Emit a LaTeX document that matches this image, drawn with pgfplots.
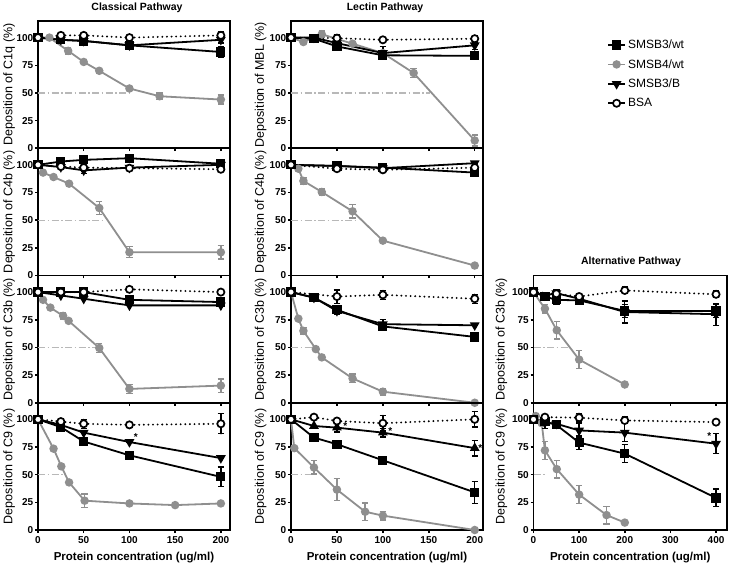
\documentclass[border=0pt]{standalone}
\usepackage{fontspec}
\setmainfont{Liberation Sans}
\usepackage{pgfplots}
\pgfplotsset{compat=1.18}
\definecolor{grayc}{gray}{0.56}
\definecolor{lightg}{gray}{0.72}
\pgfplotsset{
 panel/.style={scale only axis, height=127.25pt, ymin=0, ymax=115, ytick={0,25,50,75,100},
   tick align=outside, tick pos=left, clip=false,
   axis line style={line width=1.8pt}, tick style={line width=1.5pt, black}, major tick length=3pt,
   /pgf/number format/assume math mode=true,
   ticklabel style={font=\bfseries\fontsize{10}{11}\selectfont},
   yticklabel style={inner sep=1.5pt},
   ylabel style={anchor=center, font=\fontsize{12.5}{13}\selectfont},
   xlabel style={at={(axis description cs:0.5,-0.22)}, anchor=center, font=\bfseries\fontsize{11.5}{13}\selectfont}},
 colA/.style={width=192pt, xmin=0, xmax=210, xtick={0,50,100,150,200}, ylabel style={at={(axis description cs:-0.15,0.5)}}},
 colB/.style={width=192pt, xmin=0, xmax=209, xtick={0,50,100,150,200}, ylabel style={at={(axis description cs:-0.158,0.5)}}},
 colC/.style={width=193.5pt, xmin=0, xmax=424, xtick={0,100,200,300,400}, ylabel style={at={(axis description cs:-0.166,0.5)}}},
 noxl/.style={xticklabel=\empty},
 eb/.style={error bars/y dir=both, error bars/y explicit, error bars/error bar style={line width=1.3pt, solid}, error bars/error mark options={rotate=90, mark size=3.2pt, line width=1.3pt, solid}},
 sW/.style={black, line width=1.8pt, mark=square*, mark size=3.7pt, mark options={solid}, eb},
 sG/.style={grayc, line width=1.8pt, mark=*, mark size=3.3pt, mark options={solid}, eb},
 sB/.style={black, line width=1.8pt, mark=triangle*, mark size=3.9pt, mark options={solid, rotate=180}, eb},
 sBu/.style={black, line width=1.8pt, mark=triangle*, mark size=3.9pt, mark options={solid}, eb},
 sA/.style={black, line width=2.1pt, dash pattern=on 0.01pt off 4.6pt, line cap=round, mark=*, mark size=3.6pt, mark options={solid, fill=white, draw=black, line width=1.7pt}, eb},
 fifty/.style={lightg, line width=1.3pt, dash pattern=on 7pt off 2.5pt on 1.5pt off 2.5pt},
}
\begin{document}
\begin{tikzpicture}
\useasboundingbox (0pt,0pt) rectangle (730pt,568pt);
\node[font=\bfseries\fontsize{10.5}{12}\selectfont] at (137pt,560pt) {Classical Pathway};
\node[font=\bfseries\fontsize{10.5}{12}\selectfont] at (385pt,560pt) {Lectin Pathway};
\node[font=\bfseries\fontsize{10.5}{12}\selectfont] at (631pt,306pt) {Alternative Pathway};

% ===== Column 1: Classical =====
\begin{axis}[panel, colA, noxl, at={(38pt,419.75pt)}, anchor=south west, ylabel={Deposition of C1q (\%)}]
\addplot[fifty] coordinates {(0,50) (100,50)};
\addplot[sG] table[row sep=\\, x=x, y=y, y error=e] {x y e\\ 0 100 0\\ 12.5 100 0\\ 33 88 3\\ 50 78 0\\ 67 70 0\\ 100 54 0\\ 133 47 3\\ 200 44 4\\};
\addplot[sB] table[row sep=\\, x=x, y=y, y error=e] {x y e\\ 0 100 0\\ 25 98 0\\ 50 97 0\\ 100 93 0\\ 200 98 3\\};
\addplot[sW] table[row sep=\\, x=x, y=y, y error=e] {x y e\\ 0 100 0\\ 25 98 0\\ 50 97 0\\ 100 93 0\\ 200 87 5\\};
\addplot[sA] table[row sep=\\, x=x, y=y, y error=e] {x y e\\ 0 100 0\\ 25 102 2\\ 50 102 2\\ 100 100 2\\ 200 102 3\\};
\end{axis}

\begin{axis}[panel, colA, noxl, at={(38pt,292.5pt)}, anchor=south west, ylabel={Deposition of C4b (\%)}]
\addplot[fifty] coordinates {(0,50) (70,50)};
\addplot[sG] table[row sep=\\, x=x, y=y, y error=e] {x y e\\ 0 100 0\\ 5.5 93 0\\ 17 89 0\\ 34 83 0\\ 67 61 6\\ 100 21 5\\ 200 21 6\\};
\addplot[sB] table[row sep=\\, x=x, y=y, y error=e] {x y e\\ 0 100 0\\ 25 98 0\\ 50 95 3\\ 100 97.5 0\\ 200 100 0\\};
\addplot[sW] table[row sep=\\, x=x, y=y, y error=e] {x y e\\ 0 100 0\\ 25 103 0\\ 50 104.5 0\\ 100 106 0\\ 200 101 0\\};
\addplot[sA] table[row sep=\\, x=x, y=y, y error=e] {x y e\\ 0 100 0\\ 25 98.5 0\\ 50 97.5 0\\ 100 97 0\\ 200 96 0\\};
\end{axis}

\begin{axis}[panel, colA, noxl, at={(38pt,165.25pt)}, anchor=south west, ylabel={Deposition of C3b (\%)}]
\addplot[fifty] coordinates {(0,50) (68,50)};
\addplot[sG] table[row sep=\\, x=x, y=y, y error=e] {x y e\\ 0 100 0\\ 5.5 93 0\\ 13.5 86 0\\ 27.5 78.5 3\\ 33.5 74 0\\ 67 49.5 4\\ 100 12.5 4\\ 200 15.5 6\\};
\addplot[sB] table[row sep=\\, x=x, y=y, y error=e] {x y e\\ 0 100 0\\ 25 97 0\\ 50 94 0\\ 100 88 0\\ 200 88 0\\};
\addplot[sW] table[row sep=\\, x=x, y=y, y error=e] {x y e\\ 0 100 0\\ 25 100 0\\ 50 100 0\\ 100 93 0\\ 200 91 0\\};
\addplot[sA] table[row sep=\\, x=x, y=y, y error=e] {x y e\\ 0 100 0\\ 25 100 0\\ 50 100 0\\ 100 102.5 0\\ 200 100 0\\};
\end{axis}

\begin{axis}[panel, colA, at={(38pt,38pt)}, anchor=south west, ylabel={Deposition of C9 (\%)}, xlabel={Protein concentration (ug/ml)}]
\addplot[fifty] coordinates {(0,50) (30,50)};
\addplot[sG] table[row sep=\\, x=x, y=y, y error=e] {x y e\\ 0 100 0\\ 17 73.5 0\\ 25.5 57.5 0\\ 34 43 0\\ 51 26.5 6\\ 100 24 0\\ 150 22.5 0\\ 200 24 0\\};
\addplot[sB] table[row sep=\\, x=x, y=y, y error=e] {x y e\\ 0 100 0\\ 25 95 0\\ 50 88 0\\ 100 79.5 0\\ 200 65 0\\};
\addplot[sW] table[row sep=\\, x=x, y=y, y error=e] {x y e\\ 0 100 0\\ 25 93 3\\ 50 80 3\\ 100 67.5 3\\ 200 48 9\\};
\addplot[sA] table[row sep=\\, x=x, y=y, y error=e] {x y e\\ 0 100 0\\ 25 98 0\\ 50 96 4\\ 100 95 0\\ 200 96 9\\};
\node[font=\bfseries\fontsize{10}{11}\selectfont] at (axis cs:107,84) {*};
\end{axis}

% ===== Column 2: Lectin =====
\begin{axis}[panel, colB, noxl, at={(291pt,419.75pt)}, anchor=south west, ylabel={Deposition of MBL (\%)},
  legend cell align=left,
  legend style={at={(axis description cs:1.63,0.885)}, anchor=north west, draw=none, fill=none, row sep=5.3pt, font=\fontsize{12}{13}\selectfont}]
\addlegendimage{black, line width=1.8pt, mark=square*, mark size=3.7pt}
\addlegendentry{SMSB3/wt}
\addlegendimage{grayc, line width=1.8pt, mark=*, mark size=3.3pt}
\addlegendentry{SMSB4/wt}
\addlegendimage{black, line width=1.8pt, mark=triangle*, mark size=3.9pt, mark options={rotate=180}}
\addlegendentry{SMSB3/B}
\addlegendimage{black, line width=1.8pt, mark=*, mark size=3.6pt, mark options={fill=white, draw=black, line width=1.7pt}}
\addlegendentry{BSA}
\addplot[fifty, forget plot] coordinates {(0,50) (151,50)};
\addplot[sG, forget plot] table[row sep=\\, x=x, y=y, y error=e] {x y e\\ 0 100 0\\ 13.5 96 0\\ 33.5 103 3\\ 67 94.5 0\\ 100 86 0\\ 133.5 68 4\\ 200 7 5\\};
\addplot[sB, forget plot] table[row sep=\\, x=x, y=y, y error=e] {x y e\\ 0 100 0\\ 25 100 0\\ 50 95 0\\ 100 86 6\\ 200 93 4\\};
\addplot[sW, forget plot] table[row sep=\\, x=x, y=y, y error=e] {x y e\\ 0 100 0\\ 25 99 0\\ 50 92 0\\ 100 84 0\\ 200 83.5 0\\};
\addplot[sA, forget plot] table[row sep=\\, x=x, y=y, y error=e] {x y e\\ 0 100 0\\ 50 99.5 3\\ 100 98 0\\ 200 99 3\\};
\end{axis}

\begin{axis}[panel, colB, noxl, at={(291pt,292.5pt)}, anchor=south west, ylabel={Deposition of C4b (\%)}]
\addplot[fifty] coordinates {(0,50) (70,50)};
\addplot[sG] table[row sep=\\, x=x, y=y, y error=e] {x y e\\ 0 100 0\\ 8 96.5 0\\ 13.5 85.5 3\\ 33.5 75.5 3\\ 67 58 6\\ 100 31.5 0\\ 200 9 0\\};
\addplot[sB] table[row sep=\\, x=x, y=y, y error=e] {x y e\\ 0 100 0\\ 50 99 0\\ 100 97 0\\ 200 101.5 0\\};
\addplot[sW] table[row sep=\\, x=x, y=y, y error=e] {x y e\\ 0 100 0\\ 50 99 0\\ 100 97.5 0\\ 200 93 0\\};
\addplot[sA] table[row sep=\\, x=x, y=y, y error=e] {x y e\\ 0 100 0\\ 50 96.5 0\\ 100 95.5 0\\ 200 97.5 0\\};
\end{axis}

\begin{axis}[panel, colB, noxl, at={(291pt,165.25pt)}, anchor=south west, ylabel={Deposition of C3b (\%)}]
\addplot[fifty] coordinates {(0,50) (28,50)};
\addplot[sG] table[row sep=\\, x=x, y=y, y error=e] {x y e\\ 0 100 0\\ 8 76 0\\ 13.5 65 3\\ 27 48.5 0\\ 33.5 41 0\\ 67 22 4\\ 100 10 3\\ 200 0 0\\};
\addplot[sB] table[row sep=\\, x=x, y=y, y error=e] {x y e\\ 0 100 0\\ 25 95 0\\ 50 83 0\\ 100 71 4\\ 200 70 0\\};
\addplot[sW] table[row sep=\\, x=x, y=y, y error=e] {x y e\\ 0 100 0\\ 25 95 0\\ 50 84 4\\ 100 69 0\\ 200 59.5 0\\};
\addplot[sA] table[row sep=\\, x=x, y=y, y error=e] {x y e\\ 0 100 0\\ 50 96 6\\ 100 97.5 4\\ 200 94 4\\};
\end{axis}

\begin{axis}[panel, colB, at={(291pt,38pt)}, anchor=south west, ylabel={Deposition of C9 (\%)}, xlabel={Protein concentration (ug/ml)}]
\addplot[fifty] coordinates {(0,50) (22,50)};
\addplot[sG] table[row sep=\\, x=x, y=y, y error=e] {x y e\\ 0 100 0\\ 3.6 74 0\\ 25 56.5 6\\ 50 36.5 10\\ 80.7 16.5 8\\ 100 13 4\\ 200 0 0\\};
\addplot[sBu] table[row sep=\\, x=x, y=y, y error=e] {x y e\\ 0 100 0\\ 25 94 0\\ 50 92.5 4\\ 100 88 4\\ 200 74 7\\};
\addplot[sW] table[row sep=\\, x=x, y=y, y error=e] {x y e\\ 0 100 0\\ 25 83.5 3\\ 50 77.5 0\\ 100 63 3\\ 200 34 10\\};
\addplot[sA] table[row sep=\\, x=x, y=y, y error=e] {x y e\\ 0 100 0\\ 25 102 0\\ 50 98.5 0\\ 100 96.5 7\\ 200 100 7\\};
\node[font=\bfseries\fontsize{10}{11}\selectfont] at (axis cs:59,94) {*};
\node[font=\bfseries\fontsize{10}{11}\selectfont] at (axis cs:108,89) {*};
\node[font=\bfseries\fontsize{10}{11}\selectfont] at (axis cs:206,74) {*};
\end{axis}

% ===== Column 3: Alternative =====
\begin{axis}[panel, colC, noxl, at={(533.5pt,165.25pt)}, anchor=south west, ylabel={Deposition of C3b (\%)}]
\addplot[fifty] coordinates {(0,50) (77,50)};
\addplot[sG] table[row sep=\\, x=x, y=y, y error=e] {x y e\\ 0 100 0\\ 25 85 4\\ 51 65.5 8\\ 100 39 8\\ 200 16.5 0\\};
\addplot[sB] table[row sep=\\, x=x, y=y, y error=e] {x y e\\ 0 100 0\\ 25 97 0\\ 50 99 3\\ 100 94 5\\ 200 82 10\\ 400 80 10\\};
\addplot[sW] table[row sep=\\, x=x, y=y, y error=e] {x y e\\ 0 100 0\\ 25 96 3\\ 50 93 4\\ 100 92.5 4\\ 200 83 6\\ 400 83 6\\};
\addplot[sA] table[row sep=\\, x=x, y=y, y error=e] {x y e\\ 0 100 0\\ 50 98.5 3\\ 100 96 0\\ 200 101.5 3\\ 400 98 3\\};
\end{axis}

\begin{axis}[panel, colC, at={(533.5pt,38pt)}, anchor=south west, ylabel={Deposition of C9 (\%)}, xlabel={Protein concentration (ug/ml)}]
\addplot[fifty] coordinates {(0,50) (29,50)};
\addplot[sG] table[row sep=\\, x=x, y=y, y error=e] {x y e\\ 0 100 0\\ 5 103 0\\ 18 96.5 0\\ 25 72 8\\ 51 55 8\\ 100 32 8\\ 160 13.5 8\\ 200 6.7 0\\};
\addplot[sB] table[row sep=\\, x=x, y=y, y error=e] {x y e\\ 0 100 0\\ 25 97 5\\ 50 96 0\\ 100 90 6\\ 200 88 8\\ 400 78 9\\};
\addplot[sW] table[row sep=\\, x=x, y=y, y error=e] {x y e\\ 0 100 0\\ 25 98 0\\ 50 95 0\\ 100 79 6\\ 200 69 8\\ 400 29 8\\};
\addplot[sA] table[row sep=\\, x=x, y=y, y error=e] {x y e\\ 0 100 0\\ 25 102 0\\ 100 101.5 4\\ 200 99 3\\ 400 97.5 0\\};
\node[font=\bfseries\fontsize{10}{11}\selectfont] at (axis cs:385,85) {*};
\end{axis}
\end{tikzpicture}
\end{document}
